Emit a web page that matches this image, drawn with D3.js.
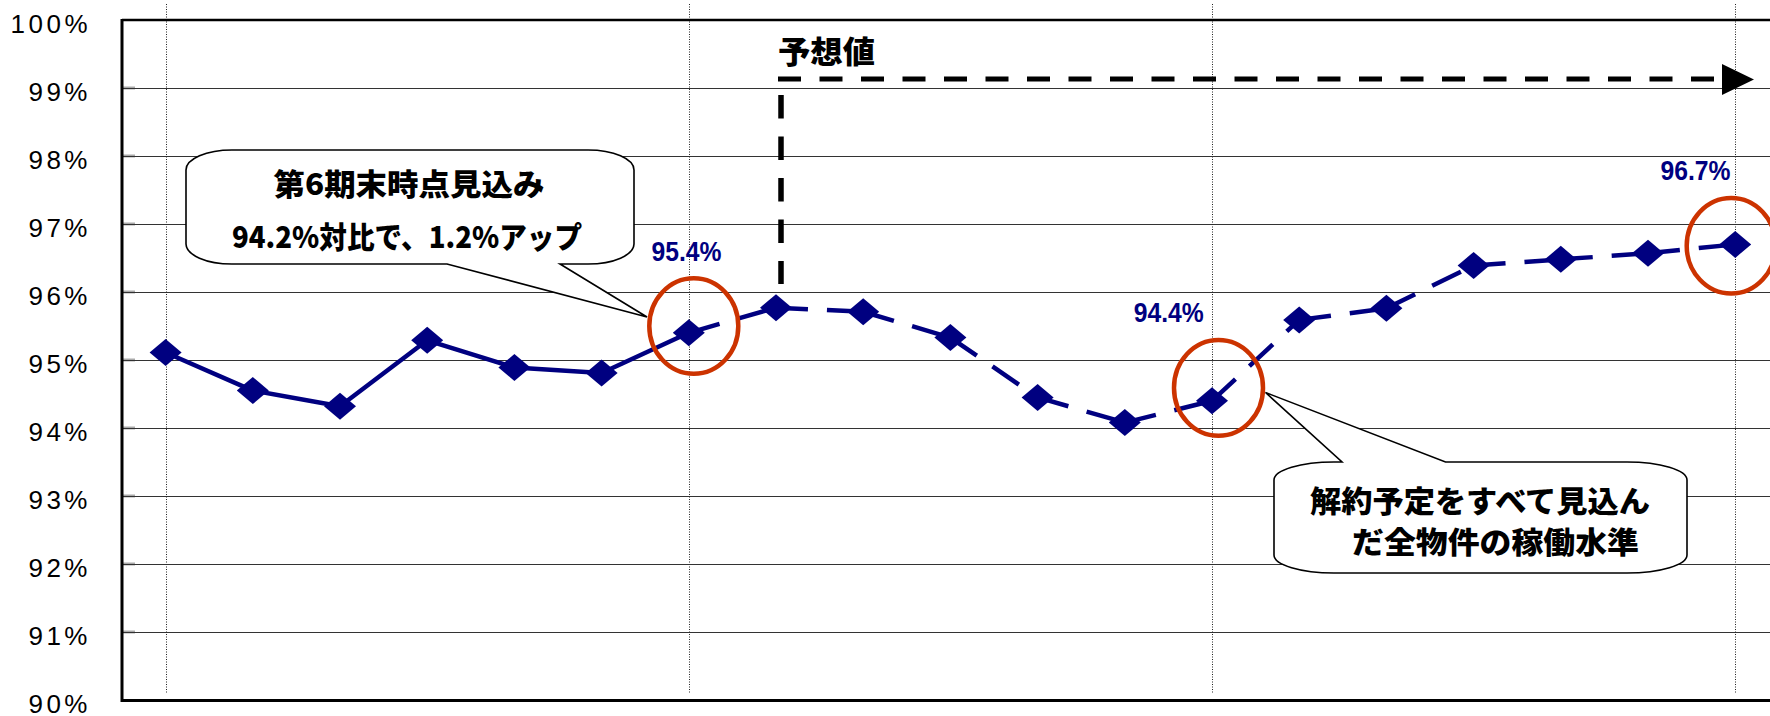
<!DOCTYPE html>
<html>
<head>
<meta charset="utf-8">
<script src="https://cdn.jsdelivr.net/npm/d3@7"></script>
<style>
  html, body { margin: 0; padding: 0; background: #fff; }
  svg { display: block; }
</style>
</head>
<body>
<svg id="chart" width="1770" height="716"></svg>
<script>
// ---- data ---------------------------------------------------------------
// Occupancy rate per period; from index `forecastFrom` onward the values are projections.
const categories = ["1", "2", "3", "4", "5", "6", "7", "8", "9", "10",
                    "11", "12", "13", "14", "15", "16", "17", "18", "19"];
const occupancy = [95.11, 94.55, 94.32, 95.29, 94.89, 94.81, 95.4,
                   95.77, 95.71, 95.33, 94.45, 94.08, 94.4,
                   95.59, 95.76, 96.39, 96.48, 96.57, 96.7];
const forecastFrom = 6;
const yTicks = [90, 91, 92, 93, 94, 95, 96, 97, 98, 99, 100];
const tickLabels = ["90%", "91%", "92%", "93%", "94%", "95%", "96%", "97%", "98%", "99%", "100%"];
const labelledPoints = [6, 12, 18];
const guidePoints = [0, 6, 12, 18];

// ---- layout -------------------------------------------------------------
const W = 1770, H = 716;
const plotLeft = 122, plotTop = 20, plotBottom = 700, step = 87.2;
const navy = "#000080", red = "#CC3300";
const cjk = "'Noto Sans CJK JP', 'Noto Sans CJK SC', sans-serif";
const latin = "'Liberation Sans', Arial, sans-serif";

const svg = d3.select("#chart");

const x = d3.scaleBand()
  .domain(categories)
  .range([plotLeft, plotLeft + step * categories.length]);
const cx = i => x(categories[i]) + x.bandwidth() / 2;

const y = d3.scaleLinear().domain([90, 100]).range([plotBottom, plotTop]);

// ---- grid ---------------------------------------------------------------
const inner = yTicks.filter(t => t > 90 && t < 100);
svg.append("g").selectAll("line.tick")
  .data(inner).join("line")
  .attr("x1", plotLeft).attr("x2", plotLeft + 13)
  .attr("y1", d => y(d)).attr("y2", d => y(d))
  .attr("stroke", "#aaa").attr("stroke-width", 3);

svg.append("g").selectAll("line")
  .data(inner).join("line")
  .attr("x1", plotLeft).attr("x2", W)
  .attr("y1", d => Math.round(y(d)) + 0.5).attr("y2", d => Math.round(y(d)) + 0.5)
  .attr("stroke", "#333").attr("stroke-width", 1.2);

// dotted guides through selected periods
svg.append("g").selectAll("line")
  .data(guidePoints).join("line")
  .attr("x1", d => Math.round(cx(d)) + 0.5).attr("x2", d => Math.round(cx(d)) + 0.5)
  .attr("y1", 4).attr("y2", 693)
  .attr("stroke", "#222").attr("stroke-width", 1)
  .attr("stroke-dasharray", "1,1.5");

// frame
svg.append("line").attr("x1", plotLeft).attr("x2", W)
  .attr("y1", plotTop).attr("y2", plotTop)
  .attr("stroke", "#000").attr("stroke-width", 2.5);
svg.append("line").attr("x1", plotLeft).attr("x2", W)
  .attr("y1", plotBottom + 0.5).attr("y2", plotBottom + 0.5)
  .attr("stroke", "#000").attr("stroke-width", 3);
svg.append("line").attr("x1", plotLeft).attr("x2", plotLeft)
  .attr("y1", plotTop - 1).attr("y2", plotBottom + 2)
  .attr("stroke", "#000").attr("stroke-width", 3);

// ---- y axis labels ------------------------------------------------------
const yAxis = d3.axisLeft(y)
  .tickValues(yTicks)
  .tickFormat((d, i) => tickLabels[i])
  .tickSize(0).tickPadding(0);
const ga = svg.append("g").attr("transform", "translate(91,0)").call(yAxis);
ga.select(".domain").remove();
ga.selectAll("text")
  .attr("font-family", latin)
  .attr("font-size", 26)
  .attr("fill", "#000")
  .attr("letter-spacing", "3.5px")
  .attr("dy", "0.47em");

// ---- projection bracket -------------------------------------------------
const bracketX = cx(7) + 5;
svg.append("line")
  .attr("x1", bracketX).attr("x2", bracketX)
  .attr("y1", 95).attr("y2", 284)
  .attr("stroke", "#000").attr("stroke-width", 5.5)
  .attr("stroke-dasharray", "23.5,18");
svg.append("line")
  .attr("x1", bracketX - 3).attr("x2", 1723)
  .attr("y1", 79).attr("y2", 79)
  .attr("stroke", "#000").attr("stroke-width", 5)
  .attr("stroke-dasharray", "23,18.5");
svg.append("path")
  .attr("d", "M1722,64 L1754,79.5 L1722,95 Z")
  .attr("fill", "#000");
svg.append("text")
  .attr("x", bracketX - 3).attr("y", 63)
  .attr("font-family", cjk).attr("font-weight", 900).attr("font-size", 31)
  .attr("textLength", 97).attr("lengthAdjust", "spacingAndGlyphs")
  .text("予想値");

// ---- series -------------------------------------------------------------
const pts = occupancy.map((v, i) => [cx(i), y(v)]);
const line = d3.line();

svg.append("path")
  .attr("d", line(pts.slice(0, forecastFrom + 1)))
  .attr("fill", "none").attr("stroke", navy).attr("stroke-width", 4.5)
  .attr("stroke-linejoin", "round");

// projected part: each segment restarts its dash pattern at the marker
const segs = d3.range(forecastFrom, occupancy.length - 1).map(i => [pts[i], pts[i + 1]]);
svg.append("g").selectAll("path")
  .data(segs).join("path")
  .attr("d", d => line(d))
  .attr("fill", "none").attr("stroke", navy).attr("stroke-width", 4.5)
  .attr("stroke-dasharray", "32,19");

// diamond markers
const hw = 16, hh = 13.5;
svg.append("g").selectAll("path")
  .data(pts).join("path")
  .attr("d", d => `M${d[0]},${d[1] - hh}L${d[0] + hw},${d[1]}L${d[0]},${d[1] + hh}L${d[0] - hw},${d[1]}Z`)
  .attr("fill", navy);

// ---- highlight rings ----------------------------------------------------
const rings = [
  { i: 6, dx: 5, v: 95.5 },
  { i: 12, dx: 6.5, v: 94.59 },
  { i: 18, dx: -4, v: 96.68 }
];
svg.append("g").selectAll("ellipse")
  .data(rings).join("ellipse")
  .attr("cx", d => cx(d.i) + d.dx).attr("cy", d => y(d.v))
  .attr("rx", 44.5).attr("ry", 47.8)
  .attr("fill", "none").attr("stroke", red).attr("stroke-width", 4.5);

// ---- value labels -------------------------------------------------------
const labelPos = { 6: { dx: -2.3, base: 260.5 }, 12: { dx: -43.3, base: 322 }, 18: { dx: -39.7, base: 180 } };
svg.append("g").selectAll("text")
  .data(labelledPoints).join("text")
  .attr("x", i => cx(i) + labelPos[i].dx)
  .attr("y", i => labelPos[i].base)
  .attr("text-anchor", "middle")
  .attr("font-family", latin).attr("font-weight", 700).attr("font-size", 27)
  .attr("fill", navy)
  .attr("textLength", 70).attr("lengthAdjust", "spacingAndGlyphs")
  .text(i => occupancy[i].toFixed(1) + "%");

// ---- callouts -----------------------------------------------------------
function callout(b, wedge, rx, ry) {
  const { l, t, r, bt } = b;
  const p = d3.path();
  p.moveTo(l + rx, t);
  if (wedge.side === "top") {
    p.lineTo(wedge.a, t); p.lineTo(wedge.tx, wedge.ty); p.lineTo(wedge.b, t);
  }
  p.lineTo(r - rx, t);
  let s = p.toString();
  s += `A${rx},${ry} 0 0 1 ${r},${t + ry}`;
  s += `L${r},${bt - ry}A${rx},${ry} 0 0 1 ${r - rx},${bt}`;
  if (wedge.side === "bottom") {
    s += `L${wedge.b},${bt}L${wedge.tx},${wedge.ty}L${wedge.a},${bt}`;
  }
  s += `L${l + rx},${bt}A${rx},${ry} 0 0 1 ${l},${bt - ry}`;
  s += `L${l},${t + ry}A${rx},${ry} 0 0 1 ${l + rx},${t}Z`;
  return s;
}

svg.append("path")
  .attr("d", callout({ l: 186, t: 150, r: 634, bt: 264 },
                     { side: "bottom", a: 447, b: 560, tx: 647, ty: 317 }, 46, 20))
  .attr("fill", "#fff").attr("stroke", "#000").attr("stroke-width", 1.6);

svg.append("path")
  .attr("d", callout({ l: 1274, t: 462, r: 1687, bt: 573 },
                     { side: "top", a: 1342, b: 1445.5, tx: 1265.5, ty: 392.5 }, 60, 18))
  .attr("fill", "#fff").attr("stroke", "#000").attr("stroke-width", 1.6);

const notes = [
  { text: "第6期末時点見込み", x: 273.5, y: 194.5, size: 30, len: 271 },
  { text: "94.2%対比で、1.2%アップ", x: 232, y: 247.5, size: 30, len: 350 },
  { text: "解約予定をすべて見込ん", x: 1310, y: 512, size: 30, len: 340 },
  { text: "だ全物件の稼働水準", x: 1352, y: 553, size: 30, len: 287 }
];
svg.append("g").selectAll("text")
  .data(notes).join("text")
  .attr("x", d => d.x).attr("y", d => d.y)
  .attr("font-family", cjk).attr("font-weight", 900)
  .attr("font-size", d => d.size)
  .attr("textLength", d => d.len).attr("lengthAdjust", "spacingAndGlyphs")
  .attr("fill", "#000")
  .text(d => d.text);
</script>
</body>
</html>
